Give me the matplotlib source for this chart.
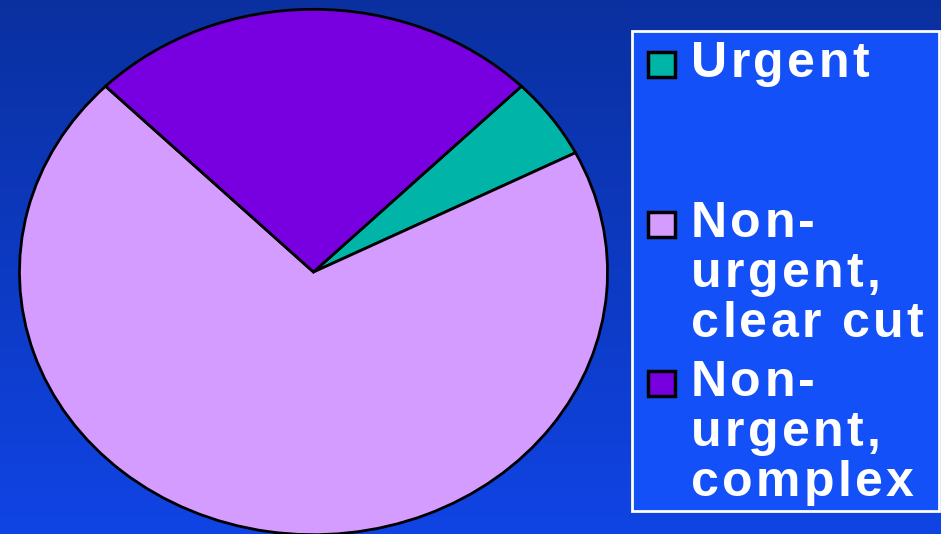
import matplotlib
matplotlib.use('Agg')
import matplotlib.pyplot as plt
import numpy as np
from matplotlib.colors import LinearSegmentedColormap
from matplotlib.patches import Rectangle

labels = ['Urgent', 'Non-\nurgent,\nclear cut', 'Non-\nurgent,\ncomplex']
shares = [5, 70, 25]
colors = ['#00b4a8', '#d49cff', '#7800e0']

W, H = 941, 534
TRACK = 3.3  # extra letter spacing, px

fig = plt.figure(figsize=(W / 100, H / 100), dpi=100)

# background gradient, darker at the top
bg = fig.add_axes([0, 0, 1, 1])
grad = LinearSegmentedColormap.from_list('bg', ['#0a30a0', '#1044e4'])
bg.imshow(np.linspace(0, 1, 256).reshape(-1, 1), aspect='auto', cmap=grad,
          extent=[0, W, H, 0])
bg.set_xlim(0, W)
bg.set_ylim(H, 0)
bg.axis('off')

# pie stretched into an ellipse, bottom runs off the figure
ax = fig.add_axes([18 / W, -2 / H, 591 / W, 528 / H])
ax.pie(shares, colors=colors, startangle=45, counterclock=False, radius=1,
       wedgeprops=dict(edgecolor='black', linewidth=2))
ax.set_aspect('auto')
ax.set_xlim(-1.005, 1.005)
ax.set_ylim(-1.005, 1.005)
ax.axis('off')

# legend drawn by hand
ov = fig.add_axes([0, 0, 1, 1])
ov.set_xlim(0, W)
ov.set_ylim(H, 0)
ov.axis('off')
ov.add_patch(Rectangle((632, 31), 307, 480, facecolor='#1450f8',
                       edgecolor='white', linewidth=2))

renderer = fig.canvas.get_renderer()
font = dict(color='white', fontsize=36, fontweight='bold',
            family='Liberation Sans', va='baseline', ha='left')


def text_width(s):
    # width of s including trailing spaces, in px
    t = ov.text(0, 0, s + '|', **font)
    w = t.get_window_extent(renderer).width
    t.remove()
    t = ov.text(0, 0, '|', **font)
    w -= t.get_window_extent(renderer).width
    t.remove()
    return w


def tracked_text(x, y, s):
    for i, ch in enumerate(s):
        ov.text(x + text_width(s[:i]) + i * TRACK, y, ch, **font)


first_baseline = [77, 237, 396]
for lab, col, base in zip(labels, colors, first_baseline):
    ov.add_patch(Rectangle((648, base - 25), 27, 25, facecolor=col,
                           edgecolor='black', linewidth=2.5))
    for k, line in enumerate(lab.split('\n')):
        tracked_text(691, base + k * 50, line)

fig.savefig('out.png', dpi=100)
